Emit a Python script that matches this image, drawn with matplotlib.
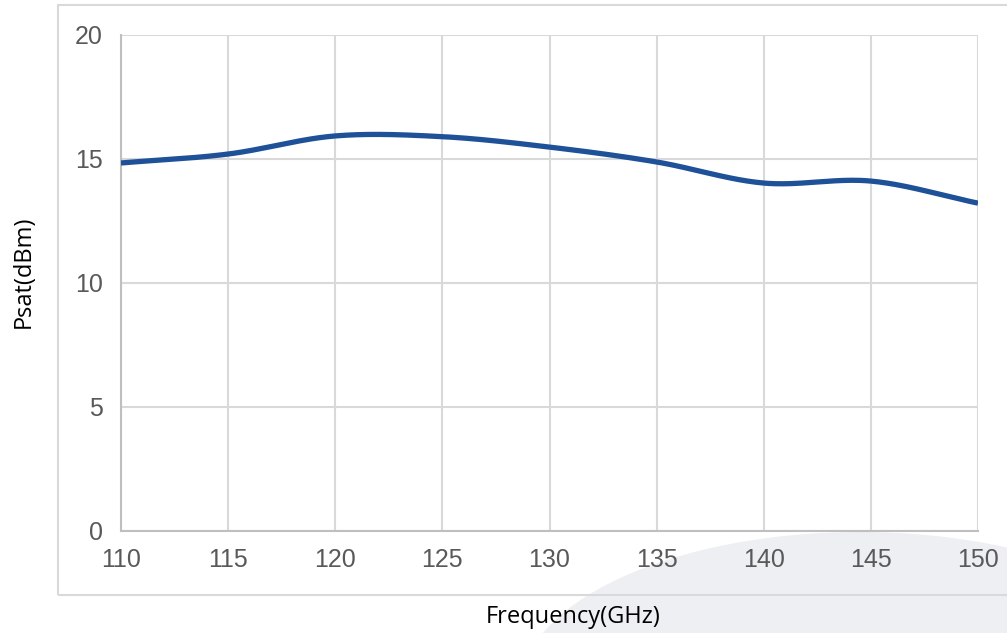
import numpy as np
import matplotlib
matplotlib.use("Agg")
import matplotlib.pyplot as plt
from matplotlib.patches import Rectangle, Ellipse

# datos
freq = [110, 115, 120, 125, 130, 135, 140, 145, 150]
psat = [14.84, 15.2, 15.93, 15.9, 15.48, 14.88, 14.03, 14.11, 13.22]
xticks = [110, 115, 120, 125, 130, 135, 140, 145, 150]
yticks = [0, 5, 10, 15, 20]


def suavizar(x, y, n=40):
    # curva tipo Catmull-Rom (como la linea suavizada de Excel)
    x = np.asarray(x, float)
    y = np.asarray(y, float)
    px = np.concatenate([[2 * x[0] - x[1]], x, [2 * x[-1] - x[-2]]])
    py = np.concatenate([[2 * y[0] - y[1]], y, [2 * y[-1] - y[-2]]])
    xs, ys = [], []
    t = np.linspace(0, 1, n)
    for i in range(1, len(px) - 2):
        for p, out in ((px, xs), (py, ys)):
            p0, p1, p2, p3 = p[i - 1], p[i], p[i + 1], p[i + 2]
            m1 = (p2 - p0) / 2
            m2 = (p3 - p1) / 2
            h00 = 2 * t**3 - 3 * t**2 + 1
            h10 = t**3 - 2 * t**2 + t
            h01 = -2 * t**3 + 3 * t**2
            h11 = t**3 - t**2
            out.extend(h00 * p1 + h10 * m1 + h01 * p2 + h11 * m2)
    return np.array(xs), np.array(ys)


W, H = 1007, 633
fig = plt.figure(figsize=(W / 100, H / 100), dpi=100)

# fondo: arco gris claro y marco exterior
fig.patches.append(Ellipse((860 / W, 1 - 690 / H), 680 / W, 316 / H,
                           transform=fig.transFigure, facecolor="#eeeff3",
                           edgecolor="none", zorder=-2))
fig.patches.append(Rectangle((58 / W, 1 - 595 / H), 1.0, 590 / H,
                             transform=fig.transFigure, fill=False,
                             edgecolor="#d9d9d9", linewidth=1.5, zorder=-1))

ax = fig.add_axes([121 / W, 1 - 531 / H, 857 / W, 496 / H])
ax.set_facecolor("white")

sx, sy = suavizar(freq, psat)
ax.plot(sx, sy, color="#1f5199", linewidth=3.8, solid_capstyle="butt", zorder=3)

ax.set_xlim(110, 150)
ax.set_ylim(0, 20)
ax.set_xticks(xticks)
ax.set_yticks(yticks)
ax.grid(True, color="#d9d9d9", linewidth=1.5)
ax.set_axisbelow(True)

for s in ["top", "right"]:
    ax.spines[s].set_visible(False)
for s in ["left", "bottom"]:
    ax.spines[s].set_color("#bfbfbf")
    ax.spines[s].set_linewidth(1.5)

ax.tick_params(length=0, labelsize=18, labelcolor="#595959")
ax.tick_params(axis="y", pad=13)
ax.tick_params(axis="x", pad=12)
for lab in ax.get_xticklabels() + ax.get_yticklabels():
    lab.set_fontfamily("Liberation Sans")

fig.text(24 / W, 1 - 272 / H, "Psat(dBm)", rotation=90, ha="center", va="center",
         fontsize=17, family="Open Sans", color="black")
fig.text(573 / W, 1 - 617 / H, "Frequency(GHz)", ha="center", va="center",
         fontsize=17, family="Open Sans", color="black")

fig.savefig("out.png", dpi=100)
